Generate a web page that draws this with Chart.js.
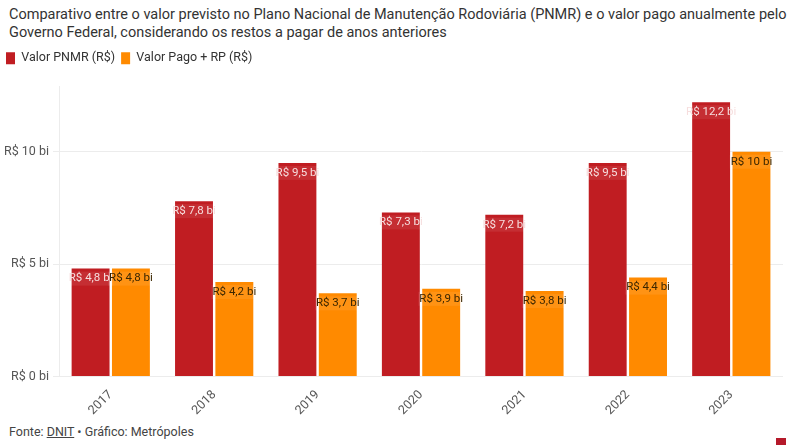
<!DOCTYPE html>
<html>
<head>
<meta charset="utf-8">
<script src="https://cdn.jsdelivr.net/npm/chart.js@4"></script>
<style>
  body { margin:0; background:#fff; font-family:Roboto, sans-serif; width:800px; height:445px; overflow:hidden; position:relative; }
  #sub { position:absolute; left:9px; top:6px; font-size:14.5px; line-height:18px; color:#333; white-space:nowrap; }
  #wrap { position:absolute; left:0; top:46px; width:800px; height:375px; }
  #foot { position:absolute; left:9px; top:424px; font-size:12.5px; color:#444; }
  #foot u { color:#444; }
  #icon { position:absolute; left:776px; top:438px; width:10px; height:10px; background:#b5192a; }
</style>
</head>
<body>
<div id="sub">Comparativo entre o valor previsto no Plano Nacional de Manutenção Rodoviária (PNMR) e o valor pago anualmente pelo<br>Governo Federal, considerando os restos a pagar de anos anteriores</div>
<div id="wrap"><canvas id="chart"></canvas></div>
<div id="foot">Fonte: <u>DNIT</u> • Gráfico: Metrópoles</div>
<div id="icon"></div>
<script>
const years = ["2017","2018","2019","2020","2021","2022","2023"];
const pnmr = [4.8, 7.8, 9.5, 7.3, 7.2, 9.5, 12.2];
const pago = [4.8, 4.2, 3.7, 3.9, 3.8, 4.4, 10];
const seriesNames = ["Valor PNMR (R$)", "Valor Pago + RP (R$)"];
const yTicks = [0, 5, 10];

function fmt(v) {
  return "R$ " + String(v).replace(".", ",") + " bi";
}

// labels at the top of each bar
const barLabels = {
  id: "barLabels",
  afterDatasetsDraw(chart) {
    const ctx = chart.ctx;
    ctx.save();
    ctx.font = "11.5px Roboto, sans-serif";
    ctx.textAlign = "center";
    ctx.textBaseline = "middle";
    chart.data.datasets.forEach((ds, di) => {
      chart.getDatasetMeta(di).data.forEach((bar, i) => {
        const txt = fmt(ds.data[i]);
        const w = ctx.measureText(txt).width + 2;
        const y = bar.y + 10;
        ctx.fillStyle = "rgba(255,255,255,0.08)";
        ctx.fillRect(bar.x - w / 2, y - 7, w, 14);
        ctx.fillStyle = di === 0 ? "#f6dede" : "#3b2600";
        ctx.fillText(txt, bar.x, y);
      });
    });
    ctx.restore();
  }
};

// extra room under the legend
const legendGap = {
  id: "legendGap",
  beforeInit(chart) {
    const fit = chart.legend.fit;
    chart.legend.fit = function () {
      fit.bind(chart.legend)();
      this.height += 12;
    };
  }
};

new Chart("chart", {
  type: "bar",
  data: {
    labels: years,
    datasets: [
      { label: seriesNames[0], data: pnmr, backgroundColor: "#c01d22" },
      { label: seriesNames[1], data: pago, backgroundColor: "#ff8a00" }
    ]
  },
  options: {
    responsive: true,
    maintainAspectRatio: false,
    animation: false,
    layout: { padding: { left: 0, right: 17, top: 0, bottom: 0 } },
    datasets: { bar: { categoryPercentage: 0.78, barPercentage: 0.94 } },
    plugins: {
      legend: {
        position: "top",
        align: "start",
        labels: {
          boxWidth: 9, boxHeight: 12, padding: 6,
          color: "#333",
          font: { family: "Roboto, sans-serif", size: 12.5 }
        }
      },
      tooltip: { enabled: false }
    },
    scales: {
      x: {
        grid: { display: false },
        border: { display: false },
        ticks: {
          color: "#555", maxRotation: 45, minRotation: 45,
          font: { family: "Roboto, sans-serif", size: 12.5 }
        }
      },
      y: {
        min: 0, max: 12.9,
        afterBuildTicks(axis) { axis.ticks = yTicks.map(v => ({ value: v })); },
        grid: { color: "#ececec", tickLength: 6 },
        border: { display: true, color: "#ececec" },
        ticks: {
          color: "#555", padding: 4,
          font: { family: "Roboto, sans-serif", size: 12.5 },
          callback: v => "R$ " + v + " bi"
        }
      }
    }
  },
  plugins: [barLabels, legendGap]
});
</script>
</body>
</html>
